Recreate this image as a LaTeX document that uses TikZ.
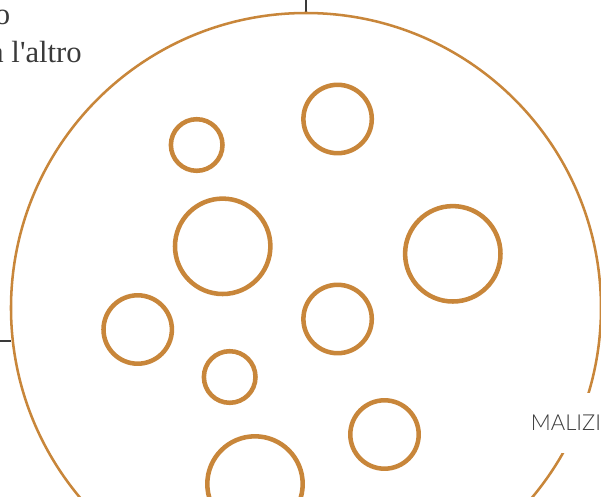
\documentclass[tikz,border=0pt]{standalone}
\usepackage{fontspec}
\setmainfont{Liberation Serif}
\newfontfamily\tagfont{Lato Light}
\definecolor{ocra}{RGB}{200,134,58}
\definecolor{inchiostro}{RGB}{58,58,58}
\tikzset{
  anello/.style={draw=ocra,line width=3.4pt},
  bordo/.style={draw=ocra,line width=1.9pt},
  segno/.style={draw=inchiostro,line width=1pt},
  testo/.style={text=inchiostro,inner sep=0pt,font=\fontsize{23}{28}\selectfont},
  etichetta/.style={fill=white,text=inchiostro,inner xsep=2pt,minimum height=45pt,
    font=\tagfont\fontsize{16.5}{19}\selectfont}
}

\begin{document}
\begin{tikzpicture}[x=0.75pt,y=-0.75pt]
  \useasboundingbox (0,0) rectangle (601,497);
  \coordinate (o) at (306,308);
  \coordinate (top) at (306,0);
  \coordinate (topin) at (306,13);
  \coordinate (left) at (0,341);
  \coordinate (leftin) at (11,341);
  \draw [segno] (top) -- (topin);
  \draw [segno] (left) -- (leftin);
  \draw [bordo] (o) circle (295);
  % centres of the small rings
  \coordinate (a) at (196.7,145);
  \coordinate (b) at (337.6,119);
  \coordinate (c) at (222.7,246.3);
  \coordinate (d) at (452.8,253.8);
  \coordinate (e) at (137.7,329.5);
  \coordinate (f) at (337.6,319);
  \coordinate (g) at (229.7,377);
  \coordinate (h) at (384.5,434.5);
  \coordinate (k) at (255,484);
  \draw [anello] (a) circle (25.8);
  \draw [anello] (b) circle (34.2);
  \draw [anello] (c) circle (47.7);
  \draw [anello] (d) circle (47.7);
  \draw [anello] (e) circle (34.2);
  \draw [anello] (f) circle (34.2);
  \draw [anello] (g) circle (25.8);
  \draw [anello] (h) circle (34.2);
  \draw [anello] (k) circle (47.7);
  \node [testo,anchor=base east] (riga1) at (10.5,24) {o};
  \node [testo,anchor=base east] (riga2) at (82,62) {a l\textquotesingle altro};
  \node [etichetta,anchor=west] (malizia) at (528,423) {MALIZIA};
\end{tikzpicture}
\end{document}
